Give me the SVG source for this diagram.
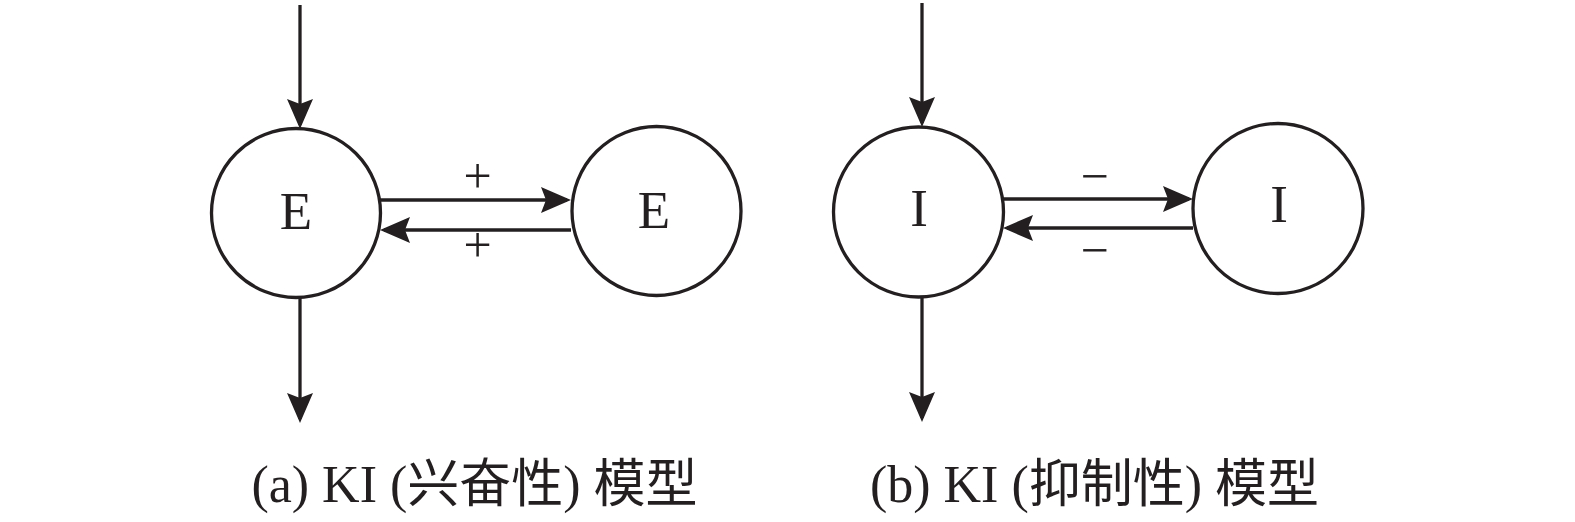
<svg xmlns="http://www.w3.org/2000/svg" width="1575" height="522" viewBox="0 0 1575 522">
<style>
.node{fill:#fff;stroke:#231f20;stroke-width:3.3}
.lbl{font-family:"Liberation Serif","Times New Roman",serif;font-size:53px;fill:#231f20;text-anchor:middle}
.sign{font-family:"Liberation Serif","Times New Roman",serif;font-size:50px;fill:#231f20;text-anchor:middle}
.cap{font-family:"Liberation Serif","Noto Sans CJK SC",serif;font-size:52px;fill:#231f20;text-anchor:middle}
.edge{stroke:#231f20;stroke-width:3.3;fill:none;marker-end:url(#ah)}
</style>
<defs>
<marker id="ah" markerUnits="userSpaceOnUse" markerWidth="32" markerHeight="26" refX="26" refY="13" orient="auto">
<path d="M0,0 L30,13 L0,26 L5,13 Z" fill="#231f20"/>
</marker>
</defs>
<rect width="1575" height="522" fill="#fff"/>
<g id="connectors">
<line class="edge" x1="300" y1="5" x2="300" y2="125"/>
<line class="edge" x1="300" y1="298" x2="300" y2="419"/>
<line class="edge" x1="380" y1="200" x2="567" y2="200"/>
<line class="edge" x1="571" y1="230" x2="384" y2="230"/>
<line class="edge" x1="922" y1="3" x2="922" y2="123"/>
<line class="edge" x1="922" y1="297" x2="922" y2="418"/>
<line class="edge" x1="1003" y1="199" x2="1189" y2="199"/>
<line class="edge" x1="1193" y1="228" x2="1007" y2="228"/>
</g>
<g id="node-e1"><circle class="node" cx="296" cy="213" r="84.5"/><text class="lbl" x="296" y="229">E</text></g>
<g id="node-e2"><circle class="node" cx="656.5" cy="211" r="84.5"/><text class="lbl" x="654" y="228">E</text></g>
<g id="node-i1"><circle class="node" cx="918.5" cy="212" r="85"/><text class="lbl" x="919" y="226">I</text></g>
<g id="node-i2"><circle class="node" cx="1278" cy="208.5" r="85"/><text class="lbl" x="1279" y="222">I</text></g>
<g id="labels">
<text class="sign" x="477.5" y="193">+</text>
<text class="sign" x="477.5" y="262">+</text>
<text class="sign" x="1094.5" y="193">−</text>
<text class="sign" x="1094.5" y="267">−</text>
<text class="cap" x="474.5" y="502">(a) KI (兴奋性) 模型</text>
<text class="cap" x="1094.5" y="502">(b) KI (抑制性) 模型</text>
</g>
</svg>
